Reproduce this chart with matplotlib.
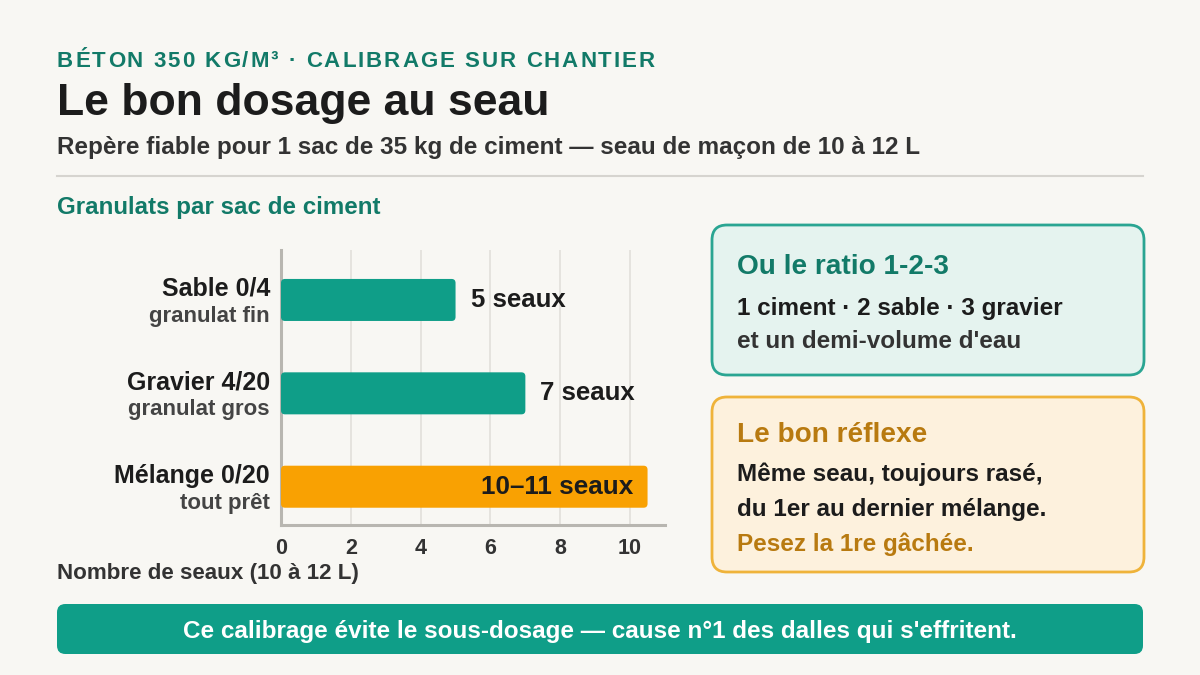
import matplotlib
matplotlib.use("Agg")
import matplotlib.pyplot as plt
from matplotlib.patches import FancyBboxPatch
from matplotlib.lines import Line2D
import matplotlib.transforms as mtransforms

plt.rcParams['font.family'] = ['Liberation Sans', 'DejaVu Sans']

# ---------------- data ----------------
categories = ["Sable 0/4", "Gravier 4/20", "Mélange 0/20"]
subtitles = ["granulat fin", "granulat gros", "tout prêt"]
values = [5, 7, 10.5]
value_labels = ["5 seaux", "7 seaux", "10–11 seaux"]
xticks = [0, 2, 4, 6, 8, 10]

kicker = "BÉTON 350 KG/M³ · CALIBRAGE SUR CHANTIER"
title = "Le bon dosage au seau"
subtitle = "Repère fiable pour 1 sac de 35 kg de ciment — seau de maçon de 10 à 12 L"
chart_title = "Granulats par sac de ciment"
xlabel = "Nombre de seaux (10 à 12 L)"
box1_title = "Ou le ratio 1-2-3"
box1_lines = ["1 ciment · 2 sable · 3 gravier", "et un demi-volume d'eau"]
box2_title = "Le bon réflexe"
box2_lines = ["Même seau, toujours rasé,", "du 1er au dernier mélange."]
box2_note = "Pesez la 1re gâchée."
banner = "Ce calibrage évite le sous-dosage — cause n°1 des dalles qui s'effritent."

# ---------------- style ----------------
BG = "#f8f7f3"
TEAL = "#0f9e88"
TEAL_DARK = "#127a68"
ORANGE = "#f9a102"
AMBER_TXT = "#b87a10"
DARK = "#1c1c1c"
MID = "#333333"
GREY = "#444444"

W, H = 1200, 675
fig = plt.figure(figsize=(12, 6.75), dpi=100, facecolor=BG)


def P(x, y):
    return (x / W, 1 - y / H)


def ftext(x, y, s, **kw):
    kw.setdefault("va", "baseline")
    return fig.text(*P(x, y), s, **kw)


# ---- letter-spaced kicker ----
renderer = fig.canvas.get_renderer()
target_w = 598
ks = 16


def tw(s):
    t = fig.text(0, 0, s, fontsize=ks, fontweight="bold")
    w = t.get_window_extent(renderer).width
    t.remove()
    return w


base = tw("HH")
chars = list(kicker)
adv = [tw("H" + c + "H") - base for c in chars]
natural = sum(adv[:-1]) + tw(chars[-1])
spacing = (target_w - natural) / (len(chars) - 1)
x = 57.0
for c, w in zip(chars, adv):
    if c != " ":
        ftext(x, 67, c, fontsize=ks, fontweight="bold", color=TEAL_DARK)
    x += w + spacing

ftext(57, 115, title, fontsize=32, fontweight="bold", color=DARK)
ftext(57, 154, subtitle, fontsize=17.5, fontweight="bold", color=MID)
fig.add_artist(Line2D([57 / W, 1143 / W], [1 - 176 / H] * 2, color="#d6d4cf", lw=1.5))
ftext(57, 214, chart_title, fontsize=17.4, fontweight="bold", color=TEAL_DARK)

# ---------------- bar chart ----------------
ax_l, ax_r, ax_t, ax_b = 281, 665, 250, 525
ax = fig.add_axes([ax_l / W, 1 - ax_b / H, (ax_r - ax_l) / W, (ax_b - ax_t) / H])
ax.set_facecolor(BG)
ypos = list(range(len(categories)))
colors = [TEAL, TEAL, ORANGE]
bars = ax.barh(ypos, values, height=0.45, color=colors)
ax.set_xlim(0, 11)
ax.set_ylim(2.41, -0.535)

# rounded corners
px_x = (ax_r - ax_l) / 11.0
px_y = (ax_b - ax_t) / (2.41 + 0.535)
r_px = 4
for b in bars:
    b.set_visible(False)
    x0, y0 = b.get_x(), b.get_y()
    w, h = b.get_width(), b.get_height()
    fb = FancyBboxPatch((x0, y0), w, h,
                        boxstyle=f"round,pad=0,rounding_size={r_px / px_x}",
                        mutation_aspect=(px_x / px_y),
                        facecolor=b.get_facecolor(), edgecolor="none", zorder=3)
    ax.add_patch(fb)

ax.set_xticks(xticks)
ax.set_xticklabels([str(v) for v in xticks], fontsize=15.5, fontweight="bold", color=MID)
ax.tick_params(axis="x", length=0, pad=9)
ax.set_yticks([])
ax.grid(axis="x", color="#e2e0da", lw=1.2, zorder=0)
ax.set_axisbelow(True)
for s in ["top", "right"]:
    ax.spines[s].set_visible(False)
for s in ["left", "bottom"]:
    ax.spines[s].set_color("#b8b6b0")
    ax.spines[s].set_linewidth(2.2)

trans_lab = mtransforms.blended_transform_factory(ax.transAxes, ax.transData)
for i, (cat, sub) in enumerate(zip(categories, subtitles)):
    ax.text(-11 / (ax_r - ax_l), i - 4 / px_y, cat, transform=trans_lab, ha="right",
            va="baseline", fontsize=18, fontweight="bold", color=DARK)
    ax.text(-11 / (ax_r - ax_l), i + 22 / px_y, sub, transform=trans_lab, ha="right",
            va="baseline", fontsize=16, fontweight="bold", color=GREY)

for i, (v, lab) in enumerate(zip(values, value_labels)):
    if i == len(values) - 1:
        ax.text(v - 14 / px_x, i + 7 / px_y, lab, ha="right", va="baseline",
                fontsize=18.8, fontweight="bold", color=DARK, zorder=4)
    else:
        ax.text(v + 15 / px_x, i + 7 / px_y, lab, ha="left", va="baseline",
                fontsize=18.5, fontweight="bold", color=DARK, zorder=4)

ftext(57, 579, xlabel, fontsize=16.1, fontweight="bold", color=MID)


# ---------------- side boxes ----------------
def box(x0, y0, x1, y1, face, edge):
    p = FancyBboxPatch((x0 / W, 1 - y1 / H), (x1 - x0) / W, (y1 - y0) / H,
                       boxstyle="round,pad=0,rounding_size=0.0125",
                       mutation_aspect=W / H,
                       transform=fig.transFigure, facecolor=face, edgecolor=edge,
                       lw=2.0)
    fig.add_artist(p)


box(712, 225, 1144, 375, "#e5f3ef", "#2aa592")
ftext(737, 274, box1_title, fontsize=20.2, fontweight="bold", color=TEAL_DARK)
ftext(737, 315, box1_lines[0], fontsize=17.5, fontweight="bold", color=DARK)
ftext(737, 348, box1_lines[1], fontsize=17.5, fontweight="bold", color=MID)

box(712, 397, 1144, 572, "#fdf1dd", "#efb33a")
ftext(737, 442, box2_title, fontsize=20.2, fontweight="bold", color=AMBER_TXT)
ftext(737, 481, box2_lines[0], fontsize=17.5, fontweight="bold", color=DARK)
ftext(737, 516, box2_lines[1], fontsize=17.5, fontweight="bold", color=DARK)
ftext(737, 551, box2_note, fontsize=17.5, fontweight="bold", color=AMBER_TXT)

# ---------------- banner ----------------
bp = FancyBboxPatch((57 / W, 1 - 654 / H), (1143 - 57) / W, 50 / H,
                    boxstyle="round,pad=0,rounding_size=0.007",
                    mutation_aspect=W / H, transform=fig.transFigure,
                    facecolor=TEAL, edgecolor="none")
fig.add_artist(bp)
ftext(600, 629, banner, fontsize=17.5, fontweight="bold", color="white",
      ha="center", va="center_baseline")

fig.savefig("out.png", dpi=100, facecolor=BG)
